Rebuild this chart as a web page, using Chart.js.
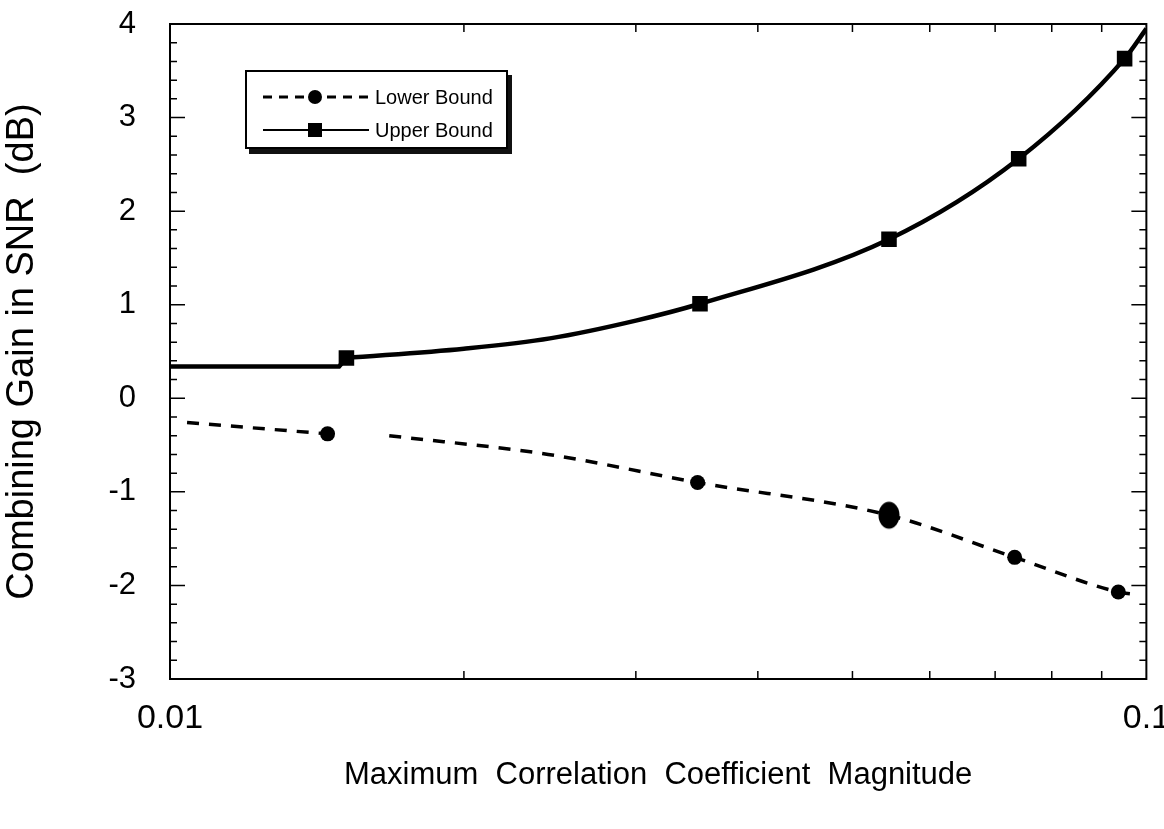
<!DOCTYPE html>
<html>
<head>
<meta charset="utf-8">
<title>Combining gain</title>
<script src="https://cdn.jsdelivr.net/npm/chart.js@4.4.1/dist/chart.umd.min.js"></script>
<style>
  html, body { margin: 0; padding: 0; background: #fff; overflow: hidden; }
  #wrap { position: relative; width: 1173px; height: 829px; }
  #legend {
    position: absolute; left: 245px; top: 70px; width: 259px; height: 75px;
    border: 2px solid #000; box-shadow: 4px 5px 0 #111; background: #fff;
    font-family: 'Liberation Sans Narrow', 'Liberation Sans', Arial, sans-serif;
    font-size: 20px; color: #000;
  }
  #legend .item { position: absolute; left: 14px; height: 22px; display: flex; align-items: center; }
  #legend canvas { margin-right: 4px; }
</style>
</head>
<body>
<div id="wrap">
  <canvas id="myChart"></canvas>
  <div id="legend"></div>
</div>
<script>
// values
var flatX = [0.01, 0.0149, 0.01516];
var flatY = [0.34, 0.34, 0.43];

var upperX = [0.01516, 0.02, 0.0245, 0.03, 0.0349, 0.0545, 0.0740, 0.0950, 0.1];
var upperY = [0.43, 0.53, 0.64, 0.83, 1.01, 1.70, 2.56, 3.63, 3.95];
var upperMarks = [0, 4, 5, 6, 7];

var lowerX = [0.01041, 0.0145, 0.0155, 0.01677, 0.0244, 0.0347, 0.0545, 0.0733, 0.0936, 0.0981];
var lowerY = [-0.26, -0.38, null, -0.40, -0.60, -0.90, -1.25, -1.70, -2.07, -2.10];
var lowerMarks = [1, 5, 6, 7, 8];
var lowerBig = 6;

var xTickLabels = [0.01, 0.1];
var yMin = -3, yMax = 4;

// big oval dot
var oval = document.createElement('canvas');
oval.width = 24; oval.height = 30;
var oc = oval.getContext('2d');
oc.fillStyle = '#000';
oc.beginPath();
oc.ellipse(12, 15, 10.5, 13.5, 0, 0, Math.PI * 2);
oc.fill();

var frameTicks = {
    id: 'frameTicks',
    beforeDatasetsDraw: function (chart) {
        var ctx = chart.ctx, a = chart.chartArea;
        var x = chart.scales.x, y = chart.scales.y;
        ctx.save();
        ctx.strokeStyle = '#000';
        ctx.lineWidth = 2;
        ctx.strokeRect(a.left, a.top, a.right - a.left, a.bottom - a.top);
        ctx.lineWidth = 1.5;
        ctx.beginPath();
        for (var i = yMin * 5; i <= yMax * 5; i++) {
            var py = y.getPixelForValue(i / 5);
            var len = (i % 5 === 0) ? 15 : 7;
            ctx.moveTo(a.left, py); ctx.lineTo(a.left + len, py);
            ctx.moveTo(a.right, py); ctx.lineTo(a.right - len, py);
        }
        for (var k = 2; k <= 9; k++) {
            var px = x.getPixelForValue(k * 0.01);
            ctx.moveTo(px, a.top); ctx.lineTo(px, a.top + 8);
            ctx.moveTo(px, a.bottom); ctx.lineTo(px, a.bottom - 8);
        }
        ctx.stroke();
        ctx.restore();
    }
};

var ctx = document.getElementById('myChart').getContext('2d');
var myChart = new Chart(ctx, {
    type: 'line',
    data: {
        datasets: [{
                label: 'Lower Bound',
                data: lowerX.map(function (v, i) { return {x: v, y: lowerY[i]}; }),
                borderColor: '#000',
                backgroundColor: '#000',
                borderWidth: 3.5,
                borderDash: [12, 10],
                cubicInterpolationMode: 'monotone',
                spanGaps: false,
                pointStyle: function (c) { return c.dataIndex === lowerBig ? oval : 'circle'; },
                pointRadius: function (c) { return lowerMarks.indexOf(c.dataIndex) >= 0 ? 7.5 : 0; },
                pointBorderWidth: 0
            }, {
                label: 'Upper Bound',
                data: upperX.map(function (v, i) { return {x: v, y: upperY[i]}; }),
                borderColor: '#000',
                backgroundColor: '#000',
                borderWidth: 4.5,
                cubicInterpolationMode: 'monotone',
                pointStyle: 'rect',
                pointRadius: function (c) { return upperMarks.indexOf(c.dataIndex) >= 0 ? 11 : 0; },
                pointBorderWidth: 0
            }, {
                label: '',
                data: flatX.map(function (v, i) { return {x: v, y: flatY[i]}; }),
                borderColor: '#000',
                borderWidth: 4.5,
                tension: 0,
                pointRadius: 0
            }]
    },
    options: {
        responsive: true,
        maintainAspectRatio: false,
        animation: false,
        layout: {padding: {left: 0, top: 24, right: 0, bottom: 0}},
        plugins: {legend: {display: false}, tooltip: {enabled: false}},
        scales: {
            x: {
                type: 'logarithmic',
                min: 0.01,
                max: 0.1,
                grid: {display: false, drawTicks: true, tickLength: 16, tickColor: 'rgba(0,0,0,0)'},
                border: {display: false},
                afterFit: function (s) { s.height = 150; },
                ticks: {
                    autoSkip: false,
                    maxRotation: 0,
                    padding: 3,
                    color: '#000',
                    font: {family: 'Liberation Sans, Arial, sans-serif', size: 34},
                    callback: function (v) {
                        for (var i = 0; i < xTickLabels.length; i++) {
                            if (Math.abs(v - xTickLabels[i]) < 1e-9) return String(xTickLabels[i]);
                        }
                        return '';
                    }
                },
                title: {
                    display: true,
                    text: 'Maximum  Correlation  Coefficient  Magnitude',
                    color: '#000',
                    font: {family: 'Liberation Sans, Arial, sans-serif', size: 31},
                    padding: {top: 0, bottom: 35}
                }
            },
            y: {
                min: yMin,
                max: yMax,
                grid: {display: false, drawTicks: true, tickLength: 30, tickColor: 'rgba(0,0,0,0)'},
                border: {display: false},
                afterFit: function (s) { s.width = 170; },
                ticks: {
                    stepSize: 1,
                    padding: 4,
                    color: '#000',
                    font: {family: 'Liberation Sans, Arial, sans-serif', size: 31}
                },
                title: {
                    display: true,
                    text: 'Combining Gain in SNR  (dB)',
                    color: '#000',
                    font: {family: 'Liberation Sans, Arial, sans-serif', size: 38},
                    padding: {top: 0, bottom: 0}
                }
            }
        }
    },
    plugins: [frameTicks]
});

// legend box built from the labelled datasets
var legend = document.getElementById('legend');
myChart.data.datasets.filter(function (ds) { return ds.label; }).forEach(function (ds, i) {
    var item = document.createElement('div');
    item.className = 'item';
    item.style.top = (i === 0 ? 14 : 47) + 'px';
    var c = document.createElement('canvas');
    c.width = 110; c.height = 20;
    var g = c.getContext('2d');
    g.strokeStyle = '#000';
    g.fillStyle = '#000';
    g.lineWidth = i === 0 ? 3 : 2;
    g.setLineDash(ds.borderDash ? [9, 7] : []);
    g.beginPath(); g.moveTo(2, 10); g.lineTo(108, 10); g.stroke();
    g.beginPath();
    if (i === 0) { g.arc(54, 10, 7, 0, Math.PI * 2); } else { g.rect(47, 3, 14, 14); }
    g.fill();
    var t = document.createElement('span');
    t.textContent = ds.label;
    item.appendChild(c);
    item.appendChild(t);
    legend.appendChild(item);
});
</script>
</body>
</html>
